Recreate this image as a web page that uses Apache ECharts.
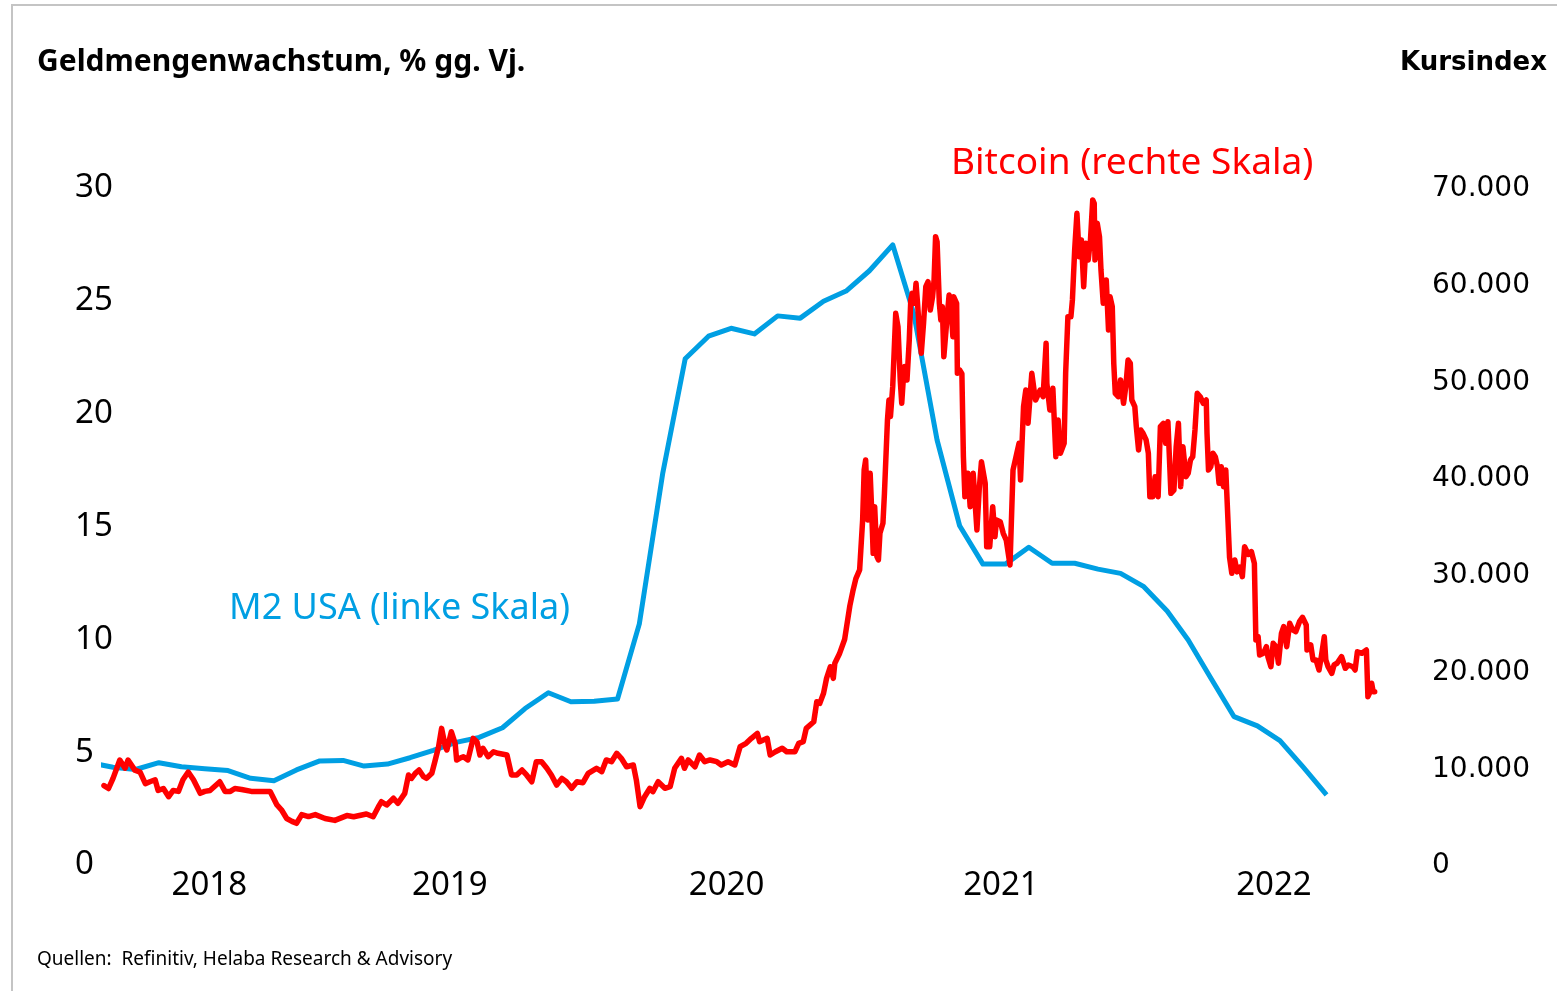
<!DOCTYPE html>
<html>
<head>
<meta charset="utf-8">
<script src="https://cdn.jsdelivr.net/npm/echarts@6/dist/echarts.min.js"></script>
<style>
  html, body { margin: 0; padding: 0; background: #fff; }
  #chart { width: 1557px; height: 991px; }
</style>
</head>
<body>
<div id="chart"></div>
<script>
// M2 USA, % gg. Vj. (monthly, plotted mid-month)
const m2Dates = [
  '2018-03-15', '2018-04-15', '2018-05-15', '2018-06-15', '2018-07-15', '2018-08-15', '2018-09-15', '2018-10-15', '2018-11-15', '2018-12-15',
  '2019-01-15', '2019-02-15', '2019-03-15', '2019-04-15', '2019-05-15', '2019-06-15', '2019-07-15', '2019-08-15', '2019-09-15', '2019-10-15', '2019-11-15', '2019-12-15',
  '2020-01-15', '2020-02-15', '2020-03-15', '2020-04-15', '2020-05-15', '2020-06-15', '2020-07-15', '2020-08-15', '2020-09-15', '2020-10-15', '2020-11-15', '2020-12-15',
  '2021-01-15', '2021-02-15', '2021-03-15', '2021-04-15', '2021-05-15', '2021-06-15', '2021-07-15', '2021-08-15', '2021-09-15', '2021-10-15', '2021-11-15', '2021-12-15',
  '2022-01-15', '2022-02-15', '2022-03-15', '2022-04-15', '2022-05-15', '2022-06-15', '2022-07-15', '2022-08-15', '2022-09-15'
];
const m2Values = [
  4.4, 4.2, 4.1, 4.4, 4.22, 4.13, 4.05, 3.71, 3.6, 4.08,
  4.48, 4.5, 4.25, 4.34, 4.62, 4.95, 5.3, 5.52, 5.95, 6.8, 7.5, 7.1,
  7.12, 7.22, 10.55, 17.2, 22.3, 23.3, 23.65, 23.4, 24.2, 24.1, 24.85, 25.3,
  26.2, 27.35, 24.3, 18.7, 14.9, 13.2, 13.2, 13.95, 13.24, 13.24, 12.98, 12.79,
  12.2, 11.12, 9.84, 8.1, 6.44, 6.03, 5.38, 4.2, 2.97
];

// Bitcoin, Kursindex: days since btcStart and value
const btcStart = '2018-04-03';
const btcDays = [
  0, 6, 12, 21, 28, 32, 41, 48, 55, 61, 68, 72, 79, 86, 92, 99, 105, 112, 119, 128,
  134, 141, 154, 161, 168, 174, 183, 196, 210, 221, 230, 236, 243, 250, 256, 263, 272, 281, 294, 307,
  323, 332, 349, 358, 365, 369, 376, 385, 391, 400, 405, 409, 414, 419, 425, 429, 436, 440, 445, 449,
  454, 456, 462, 467, 469, 473, 478, 484, 491, 496, 500, 504, 511, 518, 524, 536, 542, 549, 556, 562,
  569, 575, 582, 589, 595, 602, 609, 615, 622, 629, 637, 644, 655, 662, 668, 675, 682, 688, 695, 704,
  708, 713, 719, 726, 730, 737, 746, 753, 759, 768, 772, 777, 786, 792, 799, 806, 815, 821, 830, 839,
  846, 854, 861, 869, 872, 882, 886, 893, 902, 908, 919, 924, 930, 934, 944, 948, 952, 957, 961, 966,
  970, 972, 978, 985, 992, 996, 1000, 1005, 1009, 1011, 1013, 1016, 1019, 1021, 1023, 1025, 1028, 1030, 1032, 1036,
  1038, 1040, 1042, 1044, 1046, 1049, 1051, 1053, 1056, 1059, 1061, 1063, 1065, 1068, 1071, 1073, 1075, 1078, 1080, 1082,
  1085, 1087, 1090, 1093, 1096, 1099, 1102, 1104, 1106, 1108, 1111, 1113, 1115, 1117, 1121, 1124, 1126, 1129, 1130, 1134,
  1135, 1138, 1141, 1143, 1145, 1149, 1152, 1156, 1161, 1164, 1167, 1172, 1174, 1178, 1182, 1185, 1187, 1192, 1196, 1200,
  1205, 1209, 1214, 1217, 1219, 1223, 1226, 1229, 1234, 1237, 1239, 1245, 1249, 1253, 1254, 1258, 1262, 1266, 1269, 1272,
  1277, 1279, 1282, 1286, 1288, 1291, 1294, 1297, 1300, 1303, 1306, 1309, 1312, 1315, 1317, 1318, 1321, 1324, 1326, 1329,
  1333, 1336, 1338, 1341, 1343, 1345, 1349, 1352, 1356, 1359, 1362, 1365, 1367, 1371, 1373, 1376, 1379, 1382, 1386, 1389,
  1391, 1395, 1398, 1402, 1405, 1409, 1412, 1415, 1419, 1423, 1426, 1429, 1432, 1435, 1439, 1442, 1445, 1448, 1451, 1454,
  1458, 1462, 1466, 1467, 1469, 1472, 1475, 1478, 1481, 1483, 1486, 1489, 1492, 1494, 1497, 1500, 1504, 1507, 1511, 1514,
  1517, 1522, 1526, 1530, 1532, 1535, 1537, 1542, 1546, 1548, 1552, 1555, 1559, 1562, 1566, 1569, 1573, 1577, 1581, 1585,
  1590, 1594, 1599, 1600, 1605, 1608, 1612, 1616, 1619, 1623, 1625, 1628, 1633, 1636, 1640, 1646, 1651, 1655, 1661, 1664,
  1667, 1673, 1679, 1681, 1684, 1686, 1688, 1690
];
const btcValues = [
  7900, 7600, 8650, 10550, 9700, 10550, 9500, 9300, 8100, 8300, 8500, 7400, 7600, 6750, 7400, 7300, 8500, 9300, 8500, 7100,
  7300, 7400, 8300, 7300, 7300, 7600, 7500, 7300, 7300, 7300, 5900, 5400, 4500, 4200, 4000, 4900, 4700, 4900, 4500, 4300,
  4800, 4680, 4960, 4680, 5720, 6230, 5890, 6590, 6070, 7100, 9000, 8650, 9170, 9510, 8820, 8650, 9170, 10370, 11920, 13820,
  11920, 11580, 13470, 12270, 10550, 10720, 10890, 10550, 12790, 12440, 11060, 11760, 10890, 11400, 11240, 11060, 9000, 9000, 9510, 9000,
  8300, 10370, 10370, 9690, 9000, 7960, 8650, 8300, 7620, 8300, 8200, 9170, 9690, 9340, 10550, 10370, 11240, 10720, 9850, 10030,
  8480, 5720, 6750, 7620, 7270, 8300, 7620, 7790, 9690, 10720, 9690, 10550, 9850, 11060, 10370, 10550, 10370, 10030, 10370, 10030,
  11920, 12270, 12790, 13300, 12440, 12790, 11060, 11400, 11760, 11400, 11400, 12270, 12440, 13820, 14500, 16570, 16400, 17440, 18990, 20190,
  18990, 20550, 21500, 23000, 26500, 28000, 29300, 30200, 35360, 40530, 41570, 35360, 40190, 36400, 31920, 36740, 31570, 31230, 33990, 35020,
  38120, 38120, 45700, 47770, 46050, 49150, 52940, 56730, 55350, 49840, 47430, 49840, 51220, 49840, 53970, 58110, 58800, 57770, 59840, 57770,
  54320, 52600, 55700, 59490, 60000, 57080, 58450, 60180, 64660, 64140, 57770, 56040, 57420, 52250, 56040, 58630, 58110, 54320, 58450, 57770,
  50530, 50870, 50500, 41910, 37770, 40190, 36740, 40190, 34330, 38460, 41390, 39160, 32600, 32600, 36740, 33640, 35360, 35190, 33990, 33290,
  30710, 40530, 42260, 43290, 39500, 47080, 48800, 45360, 50530, 48800, 47770, 48800, 48110, 53630, 49500, 46740, 48980, 41910, 45700, 42260,
  43290, 50530, 56380, 56380, 58110, 63280, 67070, 62590, 64310, 59490, 63970, 62250, 64310, 68450, 68110, 62250, 66040, 64660, 61210, 57770,
  60180, 55010, 58450, 57420, 51560, 48460, 48110, 49840, 47430, 49150, 51910, 51560, 47770, 47080, 45010, 42600, 44670, 44330, 43640, 42260,
  37770, 37770, 39840, 37770, 45010, 45360, 43290, 45530, 38120, 38460, 42940, 45360, 38810, 42940, 39840, 40190, 41570, 41910, 44670, 48460,
  48110, 47430, 47770, 44330, 40530, 40870, 42260, 41910, 40870, 39160, 40870, 38810, 40530, 40530, 31500, 29850, 31230, 30000, 30500, 29500,
  32600, 31800, 32100, 30880, 22950, 23300, 21400, 21580, 22260, 21230, 20190, 22610, 22260, 20550, 23640, 24330, 22260, 24680, 23990, 23810,
  24850, 25300, 24510, 21920, 22440, 20890, 20890, 19850, 21230, 23300, 20890, 20190, 19510, 20370, 20550, 21230, 20030, 20370, 20190, 19850,
  21740, 21580, 21920, 17090, 17610, 18480, 17610, 17610
];

// x axis range and year label positions (centre of the visible part of each year)
const xMin = '2018-04-03';
const xMax = '2022-12-31';
const yearLabelDates = ['2018-08-21', '2019-07-07', '2020-07-09', '2021-07-09', '2022-07-07'];

const leftTicks = { min: 0, max: 30, interval: 5 };
const rightTicks = { min: 0, max: 70000, interval: 10000 };

const BLUE = '#009FE3';
const RED = '#FF0000';
const FONT = '"Noto Sans", sans-serif';
const FONT_R = '"DejaVu Sans", sans-serif';

function ts(s) {
  const p = s.split('-').map(Number);
  return Date.UTC(p[0], p[1] - 1, p[2]);
}

const t0 = ts(btcStart);
const btcData = btcDays.map((d, i) => [t0 + d * 86400000, btcValues[i]]);
const m2Data = m2Dates.map((d, i) => [ts(d), m2Values[i]]);

const chart = echarts.init(document.getElementById('chart'));

chart.setOption({
  animation: false,
  backgroundColor: '#fff',
  grid: {
    left: 104,
    right: 150,
    top: 185,
    bottom: 129,
    containLabel: false
  },
  xAxis: {
    // timestamps on a plain value axis, so the year labels can sit where the original puts them
    type: 'value',
    min: ts(xMin),
    max: ts(xMax),
    axisLine: { show: false },
    axisTick: { show: false },
    splitLine: { show: false },
    axisLabel: {
      customValues: yearLabelDates.map(ts),
      formatter: (v) => String(new Date(v).getUTCFullYear()),
      fontFamily: FONT,
      fontSize: 33,
      color: '#000',
      margin: 7,
      hideOverlap: false
    }
  },
  yAxis: [
    {
      type: 'value',
      position: 'left',
      min: leftTicks.min,
      max: leftTicks.max,
      interval: leftTicks.interval,
      axisLine: { show: false },
      axisTick: { show: false },
      splitLine: { show: false },
      axisLabel: {
        align: 'left',
        verticalAlign: 'top',
        lineHeight: 6,
        margin: 29,
        fontFamily: FONT,
        fontSize: 33,
        color: '#000'
      }
    },
    {
      type: 'value',
      position: 'right',
      min: rightTicks.min,
      max: rightTicks.max,
      interval: rightTicks.interval,
      axisLine: { show: false },
      axisTick: { show: false },
      splitLine: { show: false },
      axisLabel: {
        align: 'left',
        verticalAlign: 'top',
        lineHeight: 8,
        margin: 25,
        fontFamily: FONT_R,
        fontSize: 28,
        color: '#000',
        formatter: (v) => String(v).replace(/\B(?=(\d{3})+(?!\d))/g, '.')
      }
    }
  ],
  series: [
    {
      name: 'M2 USA',
      type: 'line',
      yAxisIndex: 0,
      data: m2Data,
      showSymbol: false,
      symbol: 'none',
      lineStyle: { color: BLUE, width: 5, join: 'round' },
      clip: true,
      z: 2
    },
    {
      name: 'Bitcoin',
      type: 'line',
      yAxisIndex: 1,
      data: btcData,
      showSymbol: false,
      symbol: 'none',
      lineStyle: { color: RED, width: 5.5, join: 'round', cap: 'round' },
      clip: true,
      z: 3
    }
  ],
  graphic: [
    {
      type: 'rect',
      silent: true,
      shape: { x: 12, y: 5, width: 1700, height: 1200 },
      style: { fill: 'none', stroke: '#c4c4c4', lineWidth: 2 }
    },
    {
      type: 'text',
      x: 37, y: 62,
      style: { text: 'Geldmengenwachstum, % gg. Vj.', font: 'bold 30px ' + FONT, fill: '#000', verticalAlign: 'middle' }
    },
    {
      type: 'text',
      x: 1547, y: 63,
      style: { text: 'Kursindex', font: 'bold 26px ' + FONT_R, fill: '#000', align: 'right', verticalAlign: 'middle' }
    },
    {
      type: 'text',
      x: 951, y: 163,
      style: { text: 'Bitcoin (rechte Skala)', font: '37px ' + FONT, fill: RED, verticalAlign: 'middle' }
    },
    {
      type: 'text',
      x: 229, y: 609,
      style: { text: 'M2 USA (linke Skala)', font: '36px ' + FONT, fill: BLUE, verticalAlign: 'middle' }
    },
    {
      type: 'text',
      x: 37, y: 960,
      style: { text: 'Quellen:  Refinitiv, Helaba Research & Advisory', font: '19px ' + FONT, fill: '#000', verticalAlign: 'middle' }
    }
  ]
});
</script>
</body>
</html>
